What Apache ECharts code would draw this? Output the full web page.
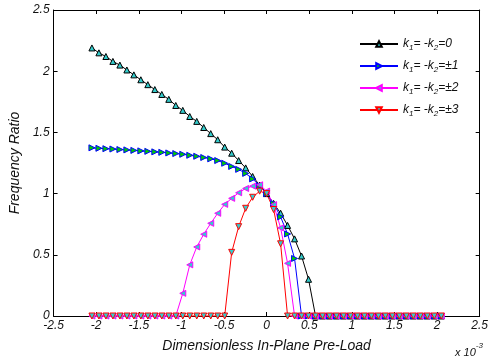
<!DOCTYPE html>
<html>
<head>
<meta charset="utf-8">
<script src="https://cdn.jsdelivr.net/npm/echarts@6/dist/echarts.min.js"></script>
<style>html,body{margin:0;padding:0;background:#fff;}#c{width:491px;height:358px;}</style>
</head>
<body>
<div id="c"></div>
<script>
var xs = [-2.05,-1.968,-1.886,-1.804,-1.722,-1.64,-1.558,-1.476,-1.394,-1.312,-1.23,-1.148,-1.066,-0.984,-0.902,-0.82,-0.738,-0.656,-0.574,-0.492,-0.41,-0.328,-0.246,-0.164,-0.082,0,0.082,0.164,0.246,0.328,0.41,0.492,0.574,0.656,0.738,0.82,0.902,0.984,1.066,1.148,1.23,1.312,1.394,1.476,1.558,1.64,1.722,1.804,1.886,1.968,2.05];
var k0 = [2.19,2.15,2.12,2.08,2.05,2.01,1.97,1.93,1.89,1.85,1.81,1.77,1.72,1.68,1.63,1.59,1.54,1.49,1.44,1.38,1.33,1.27,1.21,1.14,1.07,1.0,0.92,0.84,0.74,0.63,0.49,0.30,0,0,0,0,0,0,0,0,0,0,0,0,0,0,0,0,0,0,0];
var k1 = [1.374,1.370,1.367,1.364,1.360,1.357,1.353,1.349,1.345,1.341,1.337,1.332,1.327,1.321,1.313,1.305,1.295,1.284,1.27,1.248,1.222,1.198,1.165,1.12,1.065,1.0,0.92,0.81,0.67,0.47,0,0,0,0,0,0,0,0,0,0,0,0,0,0,0,0,0,0,0,0,0];
var k2 = [0,0,0,0,0,0,0,0,0,0,0,0,0,0.185,0.418,0.564,0.668,0.757,0.839,0.912,0.961,1.007,1.042,1.061,1.072,1.02,0.91,0.72,0.43,0,0,0,0,0,0,0,0,0,0,0,0,0,0,0,0,0,0,0,0,0,0];
var k3 = [0,0,0,0,0,0,0,0,0,0,0,0,0,0,0,0,0,0,0,0,0.52,0.73,0.88,0.97,1.02,1.0,0.87,0.59,0,0,0,0,0,0,0,0,0,0,0,0,0,0,0,0,0,0,0,0,0,0,0];
var names = ['k0','k1','k2','k3'];
var legendTexts = {
  k0: '{i|k}{s|1}{i|= -k}{s|2}{i|=0}',
  k1: '{i|k}{s|1}{i|= -k}{s|2}{i|=\u00b11}',
  k2: '{i|k}{s|1}{i|= -k}{s|2}{i|=\u00b12}',
  k3: '{i|k}{s|1}{i|= -k}{s|2}{i|=\u00b13}'
};
var xTicks = {min: -2.5, max: 2.5, interval: 0.5};
var yTicks = {min: 0, max: 2.5, interval: 0.5};

function pairs(ys){ return xs.map(function(x,i){ return [x, ys[i]]; }); }

var FONT = '"Liberation Sans", Arial, sans-serif';
function mkSeries(name, ys, lineColor, fill, rot){
  return {
    name: name, type: 'line', data: pairs(ys),
    symbol: 'triangle', symbolSize: 6, symbolRotate: rot,
    showAllSymbol: true, clip: false,
    lineStyle: {color: lineColor, width: 1},
    itemStyle: {color: fill, borderColor: lineColor, borderWidth: 1},
    emphasis: {disabled: true},
    animation: false
  };
}

var chart = echarts.init(document.getElementById('c'), null, {renderer: 'canvas'});
var axisCommon = {
  axisLine: {show: true, onZero: false, lineStyle: {color: '#000', width: 1}},
  axisTick: {show: true, inside: true, length: 4, lineStyle: {color: '#000'}},
  splitLine: {show: false}
};
chart.setOption({
  animation: false,
  backgroundColor: '#fff',
  grid: {left: 52, right: 5, top: 10, bottom: 41, containLabel: false},
  xAxis: [
    Object.assign({type: 'value', min: xTicks.min, max: xTicks.max, interval: xTicks.interval, position: 'bottom',
      axisLabel: {color: '#111', fontFamily: FONT, fontStyle: 'italic', fontSize: 12, margin: 4, showMaxLabel: true, showMinLabel: true},
      name: 'Dimensionless In-Plane Pre-Load', nameLocation: 'middle', nameGap: 23,
      nameTextStyle: {color: '#111', fontFamily: FONT, fontStyle: 'italic', fontSize: 14}}, axisCommon),
    Object.assign({type: 'value', min: xTicks.min, max: xTicks.max, interval: xTicks.interval, position: 'top',
      axisLabel: {show: false}}, axisCommon)
  ],
  yAxis: [
    Object.assign({type: 'value', min: yTicks.min, max: yTicks.max, interval: yTicks.interval, position: 'left',
      axisLabel: {color: '#111', fontFamily: FONT, fontStyle: 'italic', fontSize: 12, margin: 4},
      name: 'Frequency Ratio', nameLocation: 'middle', nameGap: 27, nameRotate: 90,
      nameTextStyle: {color: '#111', fontFamily: FONT, fontStyle: 'italic', fontSize: 14}}, axisCommon),
    Object.assign({type: 'value', min: yTicks.min, max: yTicks.max, interval: yTicks.interval, position: 'right',
      axisLabel: {show: false}}, axisCommon)
  ],
  legend: {
    show: true, orient: 'vertical', left: 354, top: 33,
    itemWidth: 38, itemHeight: 7, itemGap: 8,
    data: names,
    formatter: function(n){ return legendTexts[n]; },
    textStyle: {
      color: '#111', fontFamily: FONT, fontStyle: 'italic', fontSize: 12,
      rich: {
        i: {fontFamily: FONT, fontStyle: 'italic', fontSize: 12, color: '#111', lineHeight: 16, verticalAlign: 'middle'},
        s: {fontFamily: FONT, fontStyle: 'italic', fontSize: 8, color: '#111', lineHeight: 16, verticalAlign: 'bottom', padding: [6,0,0,0]}
      }
    }
  },
  graphic: [{
    type: 'text', left: 455, top: 342,
    style: {
      text: '{a|x 10}{b|-3}',
      rich: {
        a: {fontFamily: FONT, fontStyle: 'italic', fontSize: 11, fill: '#111', lineHeight: 16, verticalAlign: 'bottom'},
        b: {fontFamily: FONT, fontStyle: 'italic', fontSize: 8, fill: '#111', lineHeight: 16, verticalAlign: 'top', padding: [0,0,6,0]}
      }
    }
  }],
  series: [
    mkSeries('k0', k0, '#000000', '#33cccc', 0),
    mkSeries('k1', k1, '#0000ff', '#00cc00', -90),
    mkSeries('k2', k2, '#ff00ff', '#33cccc', 90),
    mkSeries('k3', k3, '#ff0000', '#33cccc', 180)
  ]
});
</script>
</body>
</html>
